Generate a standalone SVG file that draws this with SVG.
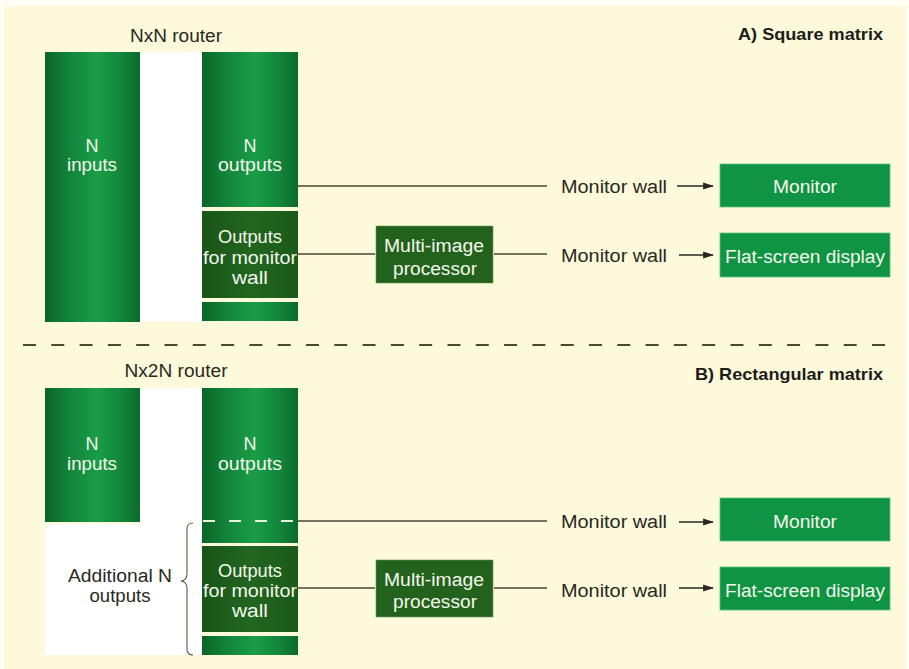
<svg xmlns="http://www.w3.org/2000/svg" width="909" height="669" viewBox="0 0 909 669">
  <defs>
    <linearGradient id="colGrad" x1="0" y1="0" x2="1" y2="0">
      <stop offset="0" stop-color="#0b6428"/>
      <stop offset="0.25" stop-color="#12843a"/>
      <stop offset="0.55" stop-color="#1a9d47"/>
      <stop offset="0.8" stop-color="#12863a"/>
      <stop offset="1" stop-color="#0b6a2b"/>
    </linearGradient>
    <linearGradient id="darkGrad" x1="0" y1="0" x2="1" y2="0">
      <stop offset="0" stop-color="#1a5418"/>
      <stop offset="0.5" stop-color="#22661f"/>
      <stop offset="1" stop-color="#1b5a19"/>
    </linearGradient>
    <marker id="arrow" viewBox="0 0 12 10" refX="11" refY="5" markerWidth="11" markerHeight="9" markerUnits="userSpaceOnUse" orient="auto">
      <path d="M0,1 L12,5 L0,9 Z" fill="#2a2520"/>
    </marker>
    <style>
      .col { fill: url(#colGrad); }
      .dark { fill: url(#darkGrad); }
      .screen { fill: #0f9443; stroke: #5cc07a; stroke-width: 0.8; }
      .proc { fill: #22621c; stroke: #6a9a5a; stroke-width: 0.6; }
      .wt { font-family: "Liberation Sans", Arial, sans-serif; font-size: 18px; fill: #f4f8ec; text-anchor: middle; }
      .bt { font-family: "Liberation Sans", Arial, sans-serif; font-size: 18px; fill: #2a2822; }
      .title { font-family: "Liberation Sans", Arial, sans-serif; font-size: 17px; font-weight: bold; fill: #1e1c18; text-anchor: end; }
      .wire { stroke: #4e4438; stroke-width: 1.3; fill: none; }
      .arr { stroke: #2a2520; stroke-width: 1.5; fill: none; marker-end: url(#arrow); }
    </style>
  </defs>

  <!-- page -->
  <rect x="0" y="0" width="909" height="669" fill="#fefef4"/>
  <rect x="4" y="6" width="903" height="663" fill="#fcfadb"/>

  <!-- section separator -->
  <line x1="23" y1="345" x2="900" y2="345" stroke="#4a4a30" stroke-width="2" stroke-dasharray="13 15.3"/>

  <!-- section titles -->
  <text class="title" x="883" y="40" textLength="145" lengthAdjust="spacingAndGlyphs">A) Square matrix</text>
  <text class="title" x="883" y="380" textLength="188" lengthAdjust="spacingAndGlyphs">B) Rectangular matrix</text>

  <!-- ============ A) Square matrix ============ -->
  <g id="routerA">
    <rect x="140" y="52" width="62" height="270" fill="#ffffff"/>
    <text class="bt" x="176" y="42" text-anchor="middle" textLength="92" lengthAdjust="spacingAndGlyphs">NxN router</text>
  </g>
  <g id="inputsA">
    <rect class="col" x="45" y="52" width="95" height="270"/>
    <text class="wt" x="92" y="152">N</text>
    <text class="wt" x="92" y="171" textLength="50" lengthAdjust="spacingAndGlyphs">inputs</text>
  </g>
  <g id="outputsA">
    <rect class="col" x="202" y="52" width="96" height="155"/>
    <text class="wt" x="250" y="152">N</text>
    <text class="wt" x="250" y="171" textLength="64" lengthAdjust="spacingAndGlyphs">outputs</text>
  </g>
  <g id="wallOutA">
    <rect class="dark" x="202" y="211" width="96" height="87"/>
    <text class="wt" x="250" y="243" textLength="64" lengthAdjust="spacingAndGlyphs">Outputs</text>
    <text class="wt" x="250" y="264" textLength="94" lengthAdjust="spacingAndGlyphs">for monitor</text>
    <text class="wt" x="250" y="284" textLength="36" lengthAdjust="spacingAndGlyphs">wall</text>
  </g>
  <g id="spareA">
    <rect class="col" x="202" y="302" width="96" height="19"/>
  </g>
  <g id="procA">
    <rect class="proc" x="376" y="226" width="117" height="57"/>
    <text class="wt" x="434" y="252" textLength="100" lengthAdjust="spacingAndGlyphs">Multi-image</text>
    <text class="wt" x="435" y="275" textLength="84" lengthAdjust="spacingAndGlyphs">processor</text>
  </g>
  <g id="monitorA">
    <rect class="screen" x="720" y="164" width="170" height="43"/>
    <text class="wt" x="805" y="193" textLength="64" lengthAdjust="spacingAndGlyphs">Monitor</text>
  </g>
  <g id="flatA">
    <rect class="screen" x="720" y="233" width="170" height="44"/>
    <text class="wt" x="805" y="263" textLength="160" lengthAdjust="spacingAndGlyphs">Flat-screen display</text>
  </g>

  <!-- ============ B) Rectangular matrix ============ -->
  <g id="routerB">
    <path d="M140,388 H202 V655 H45 V524 H140 Z" fill="#ffffff"/>
    <text class="bt" x="176" y="377" text-anchor="middle" textLength="103" lengthAdjust="spacingAndGlyphs">Nx2N router</text>
  </g>
  <g id="inputsB">
    <rect class="col" x="45" y="388" width="95" height="134"/>
    <text class="wt" x="92" y="450">N</text>
    <text class="wt" x="92" y="470" textLength="50" lengthAdjust="spacingAndGlyphs">inputs</text>
  </g>
  <g id="outputsB">
    <rect class="col" x="202" y="388" width="96" height="155"/>
    <line x1="203" y1="521" x2="298" y2="521" stroke="#e6f4e0" stroke-width="2" stroke-dasharray="12 14"/>
    <text class="wt" x="250" y="450">N</text>
    <text class="wt" x="250" y="470" textLength="64" lengthAdjust="spacingAndGlyphs">outputs</text>
  </g>
  <g id="wallOutB">
    <rect class="dark" x="202" y="546" width="96" height="86"/>
    <text class="wt" x="250" y="577" textLength="64" lengthAdjust="spacingAndGlyphs">Outputs</text>
    <text class="wt" x="250" y="597" textLength="94" lengthAdjust="spacingAndGlyphs">for monitor</text>
    <text class="wt" x="250" y="617" textLength="36" lengthAdjust="spacingAndGlyphs">wall</text>
  </g>
  <g id="spareB">
    <rect class="col" x="202" y="636" width="96" height="19"/>
  </g>
  <g id="extraB">
    <path d="M193,523 Q187,523 187,529 V574 Q187,580 181,581 Q187,582 187,588 V649 Q187,655 193,655" fill="none" stroke="#5a5a48" stroke-width="1.1"/>
    <text class="bt" x="120" y="582" text-anchor="middle" textLength="104" lengthAdjust="spacingAndGlyphs">Additional N</text>
    <text class="bt" x="120" y="602" text-anchor="middle" textLength="61" lengthAdjust="spacingAndGlyphs">outputs</text>
  </g>
  <g id="procB">
    <rect class="proc" x="376" y="560" width="117" height="57"/>
    <text class="wt" x="434" y="586" textLength="100" lengthAdjust="spacingAndGlyphs">Multi-image</text>
    <text class="wt" x="435" y="608" textLength="84" lengthAdjust="spacingAndGlyphs">processor</text>
  </g>
  <g id="monitorB">
    <rect class="screen" x="720" y="498" width="170" height="43"/>
    <text class="wt" x="805" y="528" textLength="64" lengthAdjust="spacingAndGlyphs">Monitor</text>
  </g>
  <g id="flatB">
    <rect class="screen" x="720" y="567" width="170" height="43"/>
    <text class="wt" x="805" y="597" textLength="160" lengthAdjust="spacingAndGlyphs">Flat-screen display</text>
  </g>

  <!-- connectors -->
  <g id="connectors">
    <line class="wire" x1="298" y1="186" x2="547" y2="186"/>
    <text class="bt" x="561" y="193" textLength="106" lengthAdjust="spacingAndGlyphs">Monitor wall</text>
    <line class="arr" x1="677" y1="186" x2="713" y2="186"/>

    <line class="wire" x1="298" y1="254" x2="375" y2="254"/>
    <line class="wire" x1="494" y1="254" x2="547" y2="254"/>
    <text class="bt" x="561" y="262" textLength="106" lengthAdjust="spacingAndGlyphs">Monitor wall</text>
    <line class="arr" x1="679" y1="255" x2="713" y2="255"/>

    <line class="wire" x1="298" y1="521" x2="547" y2="521"/>
    <text class="bt" x="561" y="528" textLength="106" lengthAdjust="spacingAndGlyphs">Monitor wall</text>
    <line class="arr" x1="679" y1="522" x2="713" y2="522"/>

    <line class="wire" x1="298" y1="588" x2="375" y2="588"/>
    <line class="wire" x1="494" y1="588" x2="547" y2="588"/>
    <text class="bt" x="561" y="597" textLength="106" lengthAdjust="spacingAndGlyphs">Monitor wall</text>
    <line class="arr" x1="679" y1="588" x2="713" y2="588"/>
  </g>
</svg>
